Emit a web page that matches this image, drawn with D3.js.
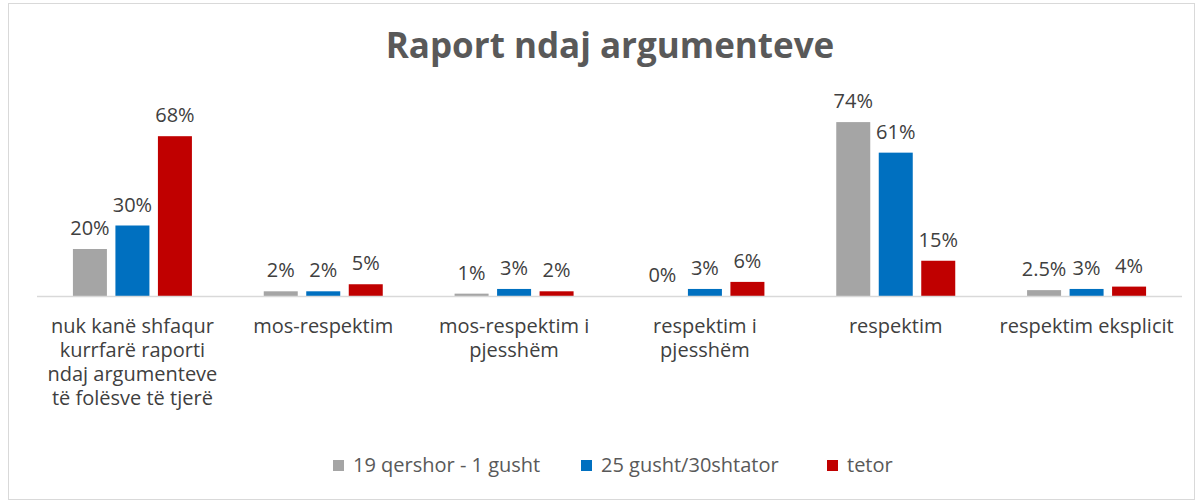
<!DOCTYPE html>
<html>
<head>
<meta charset="utf-8">
<script src="https://cdn.jsdelivr.net/npm/d3@7"></script>
<style>
  body { margin: 0; background: #fff; }
  svg text { font-family: "Open Sans", sans-serif; }
</style>
</head>
<body>
<svg id="chart" width="1203" height="503"></svg>
<script>
// data
const categories = [
  "nuk kanë shfaqur\nkurrfarë raporti\nndaj argumenteve\ntë folësve të tjerë",
  "mos-respektim",
  "mos-respektim i\npjesshëm",
  "respektim i\npjesshëm",
  "respektim",
  "respektim eksplicit"
];
const seriesNames = ["19 qershor - 1 gusht", "25 gusht/30shtator", "tetor"];
const seriesColors = ["#A5A5A5", "#0070C0", "#C00000"];
const gushtValues = [20, 2, 1, 0, 74, 2.5];
const shtatorValues = [30, 2, 3, 3, 61, 3];
const tetorValues = [68, 5, 2, 6, 15, 4];
const series = [gushtValues, shtatorValues, tetorValues];

const svg = d3.select("#chart");

// outer frame
svg.append("rect").attr("x", 8.5).attr("y", 3.5).attr("width", 1186).attr("height", 496)
  .attr("fill", "#fff").attr("stroke", "#D9D9D9").attr("stroke-width", 1);

svg.append("text").attr("x", 610).attr("y", 58).attr("text-anchor", "middle")
  .attr("font-size", 35).attr("font-weight", "bold").attr("fill", "#595959")
  .text("Raport ndaj argumenteve");

const margin = {left: 37, right: 21, baseline: 296};
const x0 = d3.scaleBand().domain(d3.range(categories.length)).range([margin.left, 1203 - margin.right]);
const y = d3.scaleLinear().domain([0, 80]).range([margin.baseline, margin.baseline - 188]);

const barW = 34, barStep = 42.5;
const xOff = i => (i - 1) * barStep - barW / 2;

const g = svg.append("g");
series.forEach((vals, s) => {
  const grp = g.append("g");
  grp.selectAll("rect").data(vals).enter().append("rect")
    .attr("x", (d, i) => x0(i) + x0.bandwidth() / 2 + xOff(s))
    .attr("y", d => y(d))
    .attr("width", barW)
    .attr("height", d => y(0) - y(d))
    .attr("fill", seriesColors[s]);
  grp.selectAll("text").data(vals).enter().append("text")
    .attr("x", (d, i) => x0(i) + x0.bandwidth() / 2 + xOff(s) + barW / 2)
    .attr("y", d => y(d) - 14)
    .attr("text-anchor", "middle").attr("font-size", 20).attr("fill", "#404040")
    .text(d => d + "%");
});

// axis line
svg.append("line").attr("x1", margin.left).attr("x2", 1203 - margin.right)
  .attr("y1", y(0) + 0.5).attr("y2", y(0) + 0.5)
  .attr("stroke", "#D9D9D9").attr("stroke-width", 1.5);

// category labels
categories.forEach((c, i) => {
  const t = svg.append("text").attr("x", x0(i) + x0.bandwidth() / 2).attr("y", 333)
    .attr("text-anchor", "middle").attr("font-size", 20).attr("fill", "#404040");
  c.split("\n").forEach((line, k) => {
    t.append("tspan").attr("x", x0(i) + x0.bandwidth() / 2).attr("dy", k === 0 ? 0 : 24).text(line);
  });
});

// legend
const legendX = [333, 581, 827];
seriesNames.forEach((n, s) => {
  svg.append("rect").attr("x", legendX[s]).attr("y", 460).attr("width", 11).attr("height", 11)
    .attr("fill", seriesColors[s]);
  svg.append("text").attr("x", legendX[s] + 20).attr("y", 472)
    .attr("font-size", 20).attr("fill", "#595959").text(n);
});
</script>
</body>
</html>
